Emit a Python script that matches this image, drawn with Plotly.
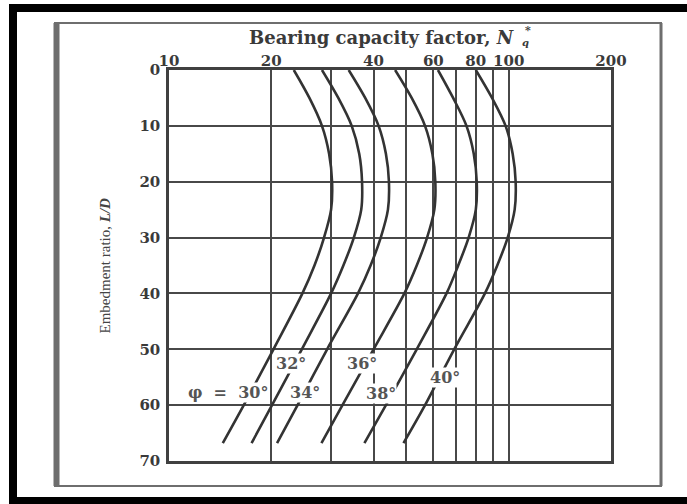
import math
import plotly.graph_objects as go

# ---------------- data ----------------
ld = [0, 5, 10, 15, 20, 25, 30, 35, 40, 50, 60, 66.8]
nq_30 = [23.3, 25.9, 28.2, 29.6, 30.2, 30.0, 28.6, 26.8, 24.7, 20.3, 16.6, 14.4]
nq_32 = [28.2, 31.5, 34.5, 36.3, 37.0, 36.8, 35.0, 32.6, 30.0, 24.6, 20.1, 17.5]
nq_34 = [33.8, 37.8, 41.4, 43.5, 44.4, 44.1, 42.0, 39.2, 36.0, 29.2, 23.9, 20.8]
nq_36 = [46.3, 51.8, 56.7, 59.6, 60.8, 60.4, 57.5, 53.6, 49.3, 40.0, 32.4, 28.1]
nq_38 = [61.9, 68.6, 75.1, 78.9, 80.5, 80.0, 76.2, 71.0, 65.6, 53.6, 43.5, 37.6]
nq_40 = [80.0, 89.3, 97.9, 102.7, 104.8, 104.1, 99.3, 92.5, 85.1, 69.1, 56.7, 49.0]
series = [nq_30, nq_32, nq_34, nq_36, nq_38, nq_40]

label_text = ["φ\u00a0\u00a0=\u00a0\u00a030°", "32°", "34°", "36°", "38°", "40°"]
label_n = [19.7, 22.8, 25.2, 37.0, 42.0, 64.8]
label_ld = [57.8, 52.5, 57.8, 52.5, 58.0, 55.0]

x_tickvals = [10, 20, 30, 40, 50, 60, 70, 80, 90, 100, 200]
x_ticktext = ["10", "20", "", "40", "", "60", "", "80", "", "100", "200"]
y_tickvals = [0, 10, 20, 30, 40, 50, 60, 70]

# ---------------- figure ----------------
fig = go.Figure()
for s in series:
    fig.add_trace(go.Scatter(
        x=s, y=ld, mode="lines",
        line=dict(color="#333333", width=2.6, shape="spline", smoothing=0.9),
        hoverinfo="skip", showlegend=False,
    ))

tickfont = dict(family="DejaVu Serif", size=15, color="#3a3a3a", weight="bold")

fig.update_layout(
    width=687, height=504,
    margin=dict(l=169, r=76, t=70, b=43),
    paper_bgcolor="white", plot_bgcolor="white",
    showlegend=False,
    xaxis=dict(
        type="log", range=[1, math.log10(200)], side="top",
        tickmode="array", tickvals=x_tickvals, ticktext=x_ticktext,
        showgrid=True, gridcolor="#484848", gridwidth=2,
        showline=True, mirror=True, linecolor="#404040", linewidth=2.5,
        ticks="", zeroline=False, tickfont=tickfont, ticklabelstandoff=-5,
    ),
    yaxis=dict(
        range=[70, 0], tickmode="array", tickvals=y_tickvals,
        showgrid=True, gridcolor="#484848", gridwidth=1.6,
        showline=True, mirror=True, linecolor="#404040", linewidth=2.5,
        ticks="", zeroline=False, tickfont=tickfont, ticklabelstandoff=3,
    ),
)

# curve labels
for i, (t, n, y) in enumerate(zip(label_text, label_n, label_ld)):
    fig.add_annotation(
        x=math.log10(n), y=y, xref="x", yref="y", text=t, showarrow=False,
        xanchor="right" if i == 0 else "center", yanchor="middle",
        font=dict(family="DejaVu Serif", size=16, color="#555555", weight="bold"),
        bgcolor="white", borderpad=0,
    )

# axis titles
fig.add_annotation(
    x=(517 - 169) / 442, y=(461 - 37) / 391, xref="paper", yref="paper",
    text="Bearing capacity factor, <i>N</i>", showarrow=False,
    xanchor="right", yanchor="middle",
    font=dict(family="DejaVu Serif", size=18, color="#3a3a3a", weight="bold"),
)
fig.add_annotation(
    x=(523 - 169) / 442, y=(461 - 30) / 391, xref="paper", yref="paper",
    text="*", showarrow=False, xanchor="left", yanchor="middle",
    font=dict(family="DejaVu Serif", size=11, color="#3a3a3a", weight="bold"),
)
fig.add_annotation(
    x=(520 - 169) / 442, y=(461 - 42) / 391, xref="paper", yref="paper",
    text="<i>q</i>", showarrow=False, xanchor="left", yanchor="middle",
    font=dict(family="DejaVu Serif", size=10, color="#3a3a3a", weight="bold"),
)
fig.add_annotation(
    x=(104 - 169) / 442, y=0.5, xref="paper", yref="paper",
    text="Embedment ratio, <b><i>L/D</i></b>", showarrow=False, textangle=-90,
    xanchor="center", yanchor="middle",
    font=dict(family="Liberation Serif", size=15, color="#444444"),
)

# frames (scanned page border)
def px_x(p):
    return (p - 169) / 442

def px_y(p):
    return (461 - p) / 391

shapes = []
shapes.append(dict(type="rect", xref="paper", yref="paper", x0=px_x(9), x1=px_x(17),
                   y0=px_y(503), y1=px_y(4), fillcolor="black", line=dict(width=0), layer="above"))
shapes.append(dict(type="rect", xref="paper", yref="paper", x0=px_x(9), x1=px_x(700),
                   y0=px_y(12), y1=px_y(4), fillcolor="black", line=dict(width=0), layer="above"))
shapes.append(dict(type="rect", xref="paper", yref="paper", x0=px_x(9), x1=px_x(700),
                   y0=px_y(504), y1=px_y(497), fillcolor="black", line=dict(width=0), layer="above"))
gray = "#6e6e6e"
shapes.append(dict(type="line", xref="paper", yref="paper", x0=px_x(56.5), x1=px_x(56.5),
                   y0=px_y(486), y1=px_y(23), line=dict(color=gray, width=6)))
shapes.append(dict(type="line", xref="paper", yref="paper", x0=px_x(54), x1=px_x(662),
                   y0=px_y(23), y1=px_y(23), line=dict(color=gray, width=2)))
shapes.append(dict(type="line", xref="paper", yref="paper", x0=px_x(661), x1=px_x(661),
                   y0=px_y(486), y1=px_y(23), line=dict(color=gray, width=3)))
shapes.append(dict(type="line", xref="paper", yref="paper", x0=px_x(54), x1=px_x(662),
                   y0=px_y(486), y1=px_y(486), line=dict(color=gray, width=2)))
fig.update_layout(shapes=shapes)

fig.write_html("out.html")
